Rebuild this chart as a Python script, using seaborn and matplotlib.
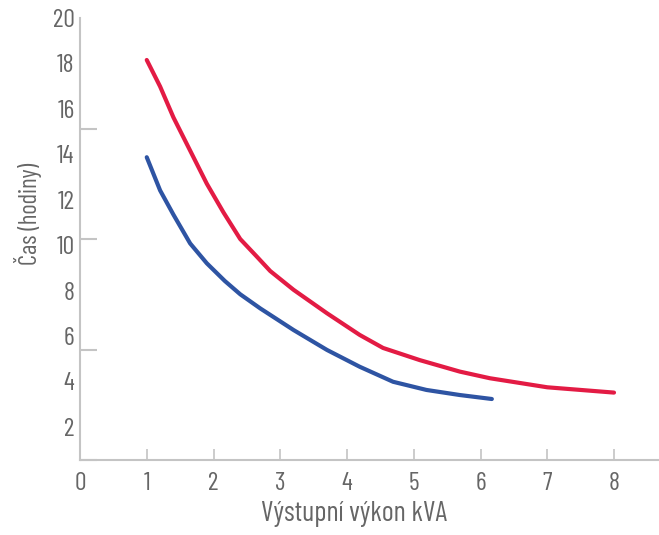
import numpy as np
import pandas as pd
import matplotlib
matplotlib.use("Agg")
import matplotlib.pyplot as plt
import seaborn as sns

# ---- data ----
red_x = [1.0, 1.2, 1.4, 1.65, 1.9, 2.15, 2.4, 2.65, 2.85, 3.2, 3.7, 4.19, 4.54, 5.09, 5.69, 6.14, 7.0, 8.0]
red_y = [18.1, 16.9, 15.5, 14.0, 12.5, 11.2, 10.0, 9.2, 8.55, 7.7, 6.64, 5.66, 5.07, 4.52, 4.0, 3.70, 3.29, 3.05]
blue_x = [1.0, 1.2, 1.4, 1.65, 1.9, 2.17, 2.4, 2.7, 3.2, 3.7, 4.19, 4.69, 5.19, 5.69, 6.17]
blue_y = [13.7, 12.2, 11.1, 9.8, 8.9, 8.1, 7.5, 6.86, 5.88, 4.98, 4.22, 3.54, 3.17, 2.94, 2.76]
x_ticks = [0, 1, 2, 3, 4, 5, 6, 7, 8]
y_tick_labels = [20, 18, 16, 14, 12, 10, 8, 6, 4, 2]
x_label = "Výstupní výkon kVA"
y_label = "Čas (hodiny)"

RED = "#E31B44"
BLUE = "#2E54A3"
AXIS = "#C4C4C4"
TEXT = "#666666"

sns.set_theme(style="white")
plt.rcParams["font.family"] = ["Barlow Condensed", "DejaVu Sans"]

df = pd.concat([
    pd.DataFrame({"x": red_x, "y": red_y, "s": "red"}),
    pd.DataFrame({"x": blue_x, "y": blue_y, "s": "blue"}),
])

fig = plt.figure(figsize=(6.59, 5.35), dpi=100)
ax = fig.add_axes([80 / 659, 75 / 535, 579 / 659, 442 / 535])
sns.lineplot(data=df, x="x", y="y", hue="s", palette={"red": RED, "blue": BLUE},
             sort=False, estimator=None, linewidth=3.0, legend=False, ax=ax,
             solid_capstyle="round", solid_joinstyle="round")

ax.set_xlim(0, 579 / 66.75)
ax.set_ylim(0, 20)

for s in ["top", "right"]:
    ax.spines[s].set_visible(False)
for s in ["left", "bottom"]:
    ax.spines[s].set_color(AXIS)
    ax.spines[s].set_linewidth(1.5)

TICK_FS = 18.5
ax.set_xticks(x_ticks)
ax.set_xticklabels([str(v) for v in x_ticks])
ax.tick_params(axis="x", bottom=True, direction="in", length=8, width=1.2, color=AXIS,
               labelsize=TICK_FS, labelcolor=TEXT, pad=9)
ax.xaxis.get_major_ticks()[0].tick1line.set_visible(False)

label_pos = np.linspace(20, 1.5, len(y_tick_labels))
ax.set_yticks(label_pos)
ax.set_yticklabels([str(v) for v in y_tick_labels])
ax.tick_params(axis="y", which="major", left=True, length=0, labelsize=TICK_FS,
               labelcolor=TEXT, pad=4)
ax.set_yticks([0, 5, 10, 15, 20], minor=True)
ax.tick_params(axis="y", which="minor", left=True, direction="in", length=12, width=1.5, color=AXIS)

xl = ax.set_xlabel(x_label, fontsize=16, color=TEXT)
yl = ax.set_ylabel(y_label, fontsize=16, color=TEXT)
ax.xaxis.set_label_coords((354 - 80) / 579, -(521 - 460) / 442)
ax.yaxis.set_label_coords(-(80 - 28) / 579, (460 - 214) / 442)
xl.set_verticalalignment("baseline")
yl.set_verticalalignment("center")

# fit label sizes to the reference extents
fig.canvas.draw()
r = fig.canvas.get_renderer()
w = xl.get_window_extent(r).width
xl.set_fontsize(16 * 186 / w)
h = yl.get_window_extent(r).height
yl.set_fontsize(16 * 102 / h)

fig.savefig("out.png", dpi=100)
